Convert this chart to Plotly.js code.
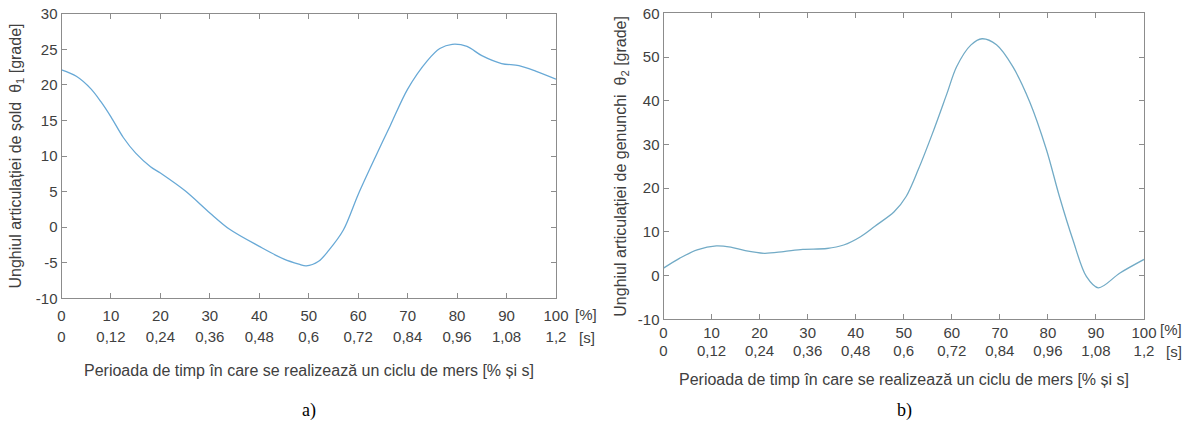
<!DOCTYPE html>
<html>
<head>
<meta charset="utf-8">
<script src="https://cdn.plot.ly/plotly-3.0.1.min.js"></script>
<style>html,body{margin:0;padding:0;background:#fff;}#chart{width:1188px;height:429px;}</style>
</head>
<body>
<div id="chart"></div>
<script>
// ---- data ----
const hipX = [0,3,6,8,10,12.5,15,18,20,25,30,34,40,45,48,49.5,52,54,57,60,63.5,66.5,70,74,76.5,79,82,85,89,92.5,96,100];
const hipAngle = [22.1,21.2,19.4,17.6,15.5,12.6,10.4,8.5,7.6,5.1,2.0,-0.3,-2.7,-4.5,-5.2,-5.45,-4.8,-3.3,-0.4,4.6,9.9,14.3,19.4,23.4,25.1,25.7,25.4,24.1,23.0,22.7,21.9,20.8];
const kneeX = [0,3.4,7,11,14,17,21,25,29,34,37.5,41,44,48,50.5,53,56,59,61,64,66.3,69.3,72.7,76.2,79.7,82.4,85.2,88,90.5,95,100];
const kneeAngle = [1.7,4.0,5.9,6.8,6.5,5.7,5.1,5.5,6.0,6.2,7.0,8.9,11.3,14.6,18.1,24.2,32.6,41.7,47.8,52.8,54.2,52.8,47.8,39.8,28.8,18.1,8.2,-0.2,-2.8,0.6,3.7];
const pctTicks = [0,10,20,30,40,50,60,70,80,90,100];
const secTicks = [0,0.12,0.24,0.36,0.48,0.6,0.72,0.84,0.96,1.08,1.2];
const secLabels = ['0','0,12','0,24','0,36','0,48','0,6','0,72','0,84','0,96','1,08','1,2'];
const hipYTicks = [-10,-5,0,5,10,15,20,25,30];
const kneeYTicks = [-10,0,10,20,30,40,50,60];
const xTitle = 'Perioada de timp în care se realizează un ciclu de mers [% și s]';
const hipTitle = 'Unghiul articulației de șold  θ<sub>1</sub> [grade]';
const kneeTitle = 'Unghiul articulației de genunchi  θ<sub>2</sub> [grade]';

// ---- layout helpers ----
const W = 1188, H = 429;
const px = v => v / W;
const py = v => (H - v) / H;
const FONT = 'Liberation Sans, Arial, sans-serif';
const TXT = '#404040';
const AX = '#8c8c8c';
const TICKSZ = 15, TITLESZ = 16;

function mainX(dom, standoff) {
  return {domain: dom, range: [0,100], tickvals: pctTicks, ticktext: pctTicks.map(String),
    showline: true, linecolor: AX, linewidth: 1, mirror: 'ticks', ticks: 'inside', ticklen: 5,
    tickcolor: AX, showgrid: false, zeroline: false, tickfont: {family: FONT, size: TICKSZ, color: TXT},
    ticklabelstandoff: standoff, automargin: false, fixedrange: true};
}
function secX(over, pos) {
  return {overlaying: over, anchor: 'free', position: pos, range: [0,1.2], tickvals: secTicks, ticktext: secLabels,
    showline: false, ticks: '', showgrid: false, zeroline: false,
    tickfont: {family: FONT, size: TICKSZ, color: TXT}, automargin: false, fixedrange: true};
}
function mainY(dom, rng, tv, title, anchor, standoff) {
  return {domain: dom, range: rng, tickvals: tv, ticktext: tv.map(String), anchor: anchor,
    showline: true, linecolor: AX, linewidth: 1, mirror: 'ticks', ticks: 'inside', ticklen: 5,
    tickcolor: AX, showgrid: false, zeroline: false, tickfont: {family: FONT, size: TICKSZ, color: TXT},
    title: {text: title, font: {family: FONT, size: TITLESZ, color: TXT}, standoff: standoff},
    automargin: false, fixedrange: true};
}

const data = [
  {x: hipX, y: hipAngle, xaxis: 'x', yaxis: 'y', type: 'scatter', mode: 'lines',
   line: {color: '#68a9d6', width: 1.3, shape: 'spline', smoothing: 0.9}, hoverinfo: 'skip'},
  {x: kneeX, y: kneeAngle, xaxis: 'x2', yaxis: 'y2', type: 'scatter', mode: 'lines',
   line: {color: '#72abc6', width: 1.3, shape: 'spline', smoothing: 0.9}, hoverinfo: 'skip'},
  // empty traces so the seconds axes are drawn
  {x: [], y: [], xaxis: 'x3', yaxis: 'y', type: 'scatter', mode: 'lines', hoverinfo: 'skip'},
  {x: [], y: [], xaxis: 'x4', yaxis: 'y2', type: 'scatter', mode: 'lines', hoverinfo: 'skip'}
];

function ann(x, y, text, font) {
  return {xref:'paper', yref:'paper', x: px(x), y: py(y), xanchor: 'center', yanchor: 'middle',
    text: text, showarrow: false, font: font || {family: FONT, size: TICKSZ, color: TXT}};
}
const serif = {family:'Liberation Serif, Times New Roman, serif', size:18, color:'#000'};
const titleFont = {family: FONT, size: TITLESZ, color: TXT};

const layout = {
  width: W, height: H, margin: {l:0, r:0, t:0, b:0}, showlegend: false,
  paper_bgcolor: '#fff', plot_bgcolor: '#fff',
  xaxis: Object.assign(mainX([px(61.5), px(556)], 4), {anchor: 'y'}),
  yaxis: mainY([py(298.3), py(13.7)], [-10,30], hipYTicks, hipTitle, 'x', 10),
  xaxis2: Object.assign(mainX([px(663.5), px(1144)], 0), {anchor: 'y2'}),
  yaxis2: mainY([py(319.3), py(13.4)], [-10,60], kneeYTicks, kneeTitle, 'x2', 7),
  xaxis3: secX('x', py(326)),
  xaxis4: secX('x2', py(340)),
  annotations: [
    ann(586, 314, '[%]'), ann(587, 337, '[s]'),
    ann(1171, 330, '[%]'), ann(1174, 351, '[s]'),
    ann(309, 370, xTitle, titleFont), ann(904, 379, xTitle, titleFont),
    ann(309, 410, 'a)', serif), ann(904, 410, 'b)', serif)
  ]
};

Plotly.newPlot('chart', data, layout, {displayModeBar: false, staticPlot: true});
</script>
</body>
</html>
